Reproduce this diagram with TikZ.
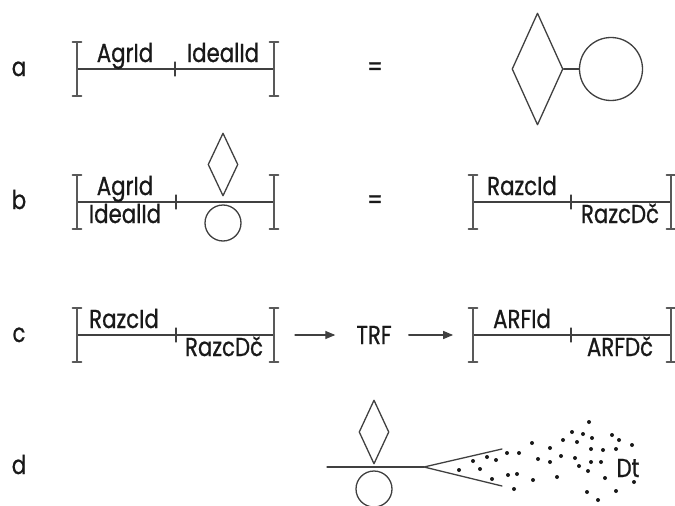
\documentclass[tikz,border=0pt]{standalone}
\usepackage{fontspec}
\setmainfont{Poppins}[FakeStretch=0.82,FakeBold=0.8]
\usetikzlibrary{arrows, shapes.geometric}

\tikzset{
  lbl/.style={font=\fontsize{26}{30}\selectfont, text=black!90, inner sep=0pt, anchor=base},
  brk/.style={line width=1.8pt, draw=black!65},
  ln/.style={line width=1.3pt, draw=black!75},
  dia/.style={diamond, draw=black!75, line width=1.3pt, inner sep=0pt},
  ring/.style={circle, draw=black!75, line width=1.3pt, inner sep=0pt}
}

\begin{document}
\begin{tikzpicture}[line cap=round,line join=round,>=triangle 45,x=1pt,y=-1pt]
\useasboundingbox (0,0) rectangle (675,506);

\node[lbl] (rowa) at (19,76) {a};
\node[lbl] (rowb) at (19,209) {b};
\node[lbl] (rowc) at (19,342) {c};
\node[lbl] (rowd) at (19,474) {d};

\coordinate (A1) at (77,69);
\coordinate (A2) at (175,69);
\coordinate (A3) at (274,69);
\coordinate (B1) at (77,202);
\coordinate (B2) at (176,202);
\coordinate (B3) at (274,202);
\coordinate (B4) at (473,202);
\coordinate (B5) at (571,202);
\coordinate (B6) at (671,202);
\coordinate (C1) at (77,335);
\coordinate (C2) at (176,335);
\coordinate (C3) at (274,335);
\coordinate (C4) at (473,335);
\coordinate (C5) at (571,335);
\coordinate (C6) at (671,335);

\draw[ln] (A1) -- (A3);
\draw[ln] (B1) -- (B3);
\draw[ln] (B4) -- (B6);
\draw[ln] (C1) -- (C3);
\draw[ln] (C4) -- (C6);

\foreach \p in {A2,B2,B5,C2,C5}
  \draw[ln] (\p) ++(0,-7) -- ++(0,14);

\foreach \p in {A1,A3,B1,B3,B4,B6,C1,C3,C4,C6}
  \draw[brk] (\p) ++(-4.5,-27) -- ++(9,0) ++(-4.5,0) -- ++(0,54) ++(-4.5,0) -- ++(9,0);

\node[lbl] (agra) at (125,62) {AgrId};
\node[lbl] (ideala) at (223,62) {IdealId};
\node[lbl] (agrb) at (125,195) {AgrId};
\node[lbl] (idealb) at (125,223) {IdealId};
\node[lbl] (razb) at (522,195) {RazcId};
\node[lbl] (razdb) at (620,223) {RazcDč};
\node[lbl] (razc) at (124,328) {RazcId};
\node[lbl] (razdc) at (224,356) {RazcDč};
\node[lbl] (arf) at (522,328) {ARFId};
\node[lbl] (arfd) at (620,356) {ARFDč};

\node[lbl, anchor=center] (eqa) at (375,69) {=};
\node[lbl, anchor=center] (eqb) at (375,202) {=};
\node[lbl, anchor=center] (trf) at (374,335) {TRF};

\draw[ln,->,shorten <=21pt,shorten >=21pt] (C3) -- (trf.west);
\draw[ln,->,shorten <=17pt,shorten >=20pt] (trf.east) -- (C4);

\node[dia, minimum width=51, minimum height=112] (diaa) at (537.5,69) {};
\node[ring, minimum size=63] (ringa) at (611,69) {};
\draw[ln] (diaa.east) -- (ringa.west);

\node[dia, minimum width=30, minimum height=63] (diab) at (223,164.5) {};
\node[ring, minimum size=36] (ringb) at (223,223) {};

\coordinate (D0) at (327,467);
\coordinate (D1) at (424,467);
\coordinate (D2) at (502,449);
\coordinate (D3) at (502,486);
\node[dia, minimum width=30, minimum height=64] (diad) at (374,432) {};
\node[ring, minimum size=36] (ringd) at (374,489) {};
\draw[ln] (D0) -- (D1);
\draw[ln] (D2) -- (D1) -- (D3);

\foreach \x/\y in {459/470,473/461,480/469,487/457,496/460,492/479,507/453,519/453,
  508/475,517/474,514/489,532/443,538/459,533/480,550/448,550/462,557/477,563/440,
  561/456,572/432,577/442,575/458,583/434,589/422,592/438,591/449,579/466,591/462,
  588/471,601/462,603/450,612/435,619/440,616/449,632/445,605/478,587/492,598/500,
  616/491,634/482}
  \fill[black!90] (\x,\y) circle[radius=2];

\node[lbl] (dt) at (628,477) {Dt};

\end{tikzpicture}
\end{document}
